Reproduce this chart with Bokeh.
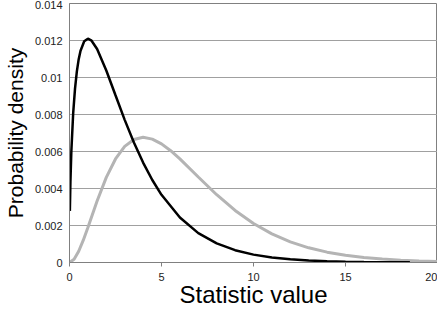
from bokeh.plotting import figure
from bokeh.models import Range1d, FixedTicker
from bokeh.embed import file_html
from bokeh.resources import INLINE

# Black curve (narrow distribution)
black_x = [0.02, 0.05, 0.1, 0.2, 0.3, 0.4, 0.5, 0.6, 0.8, 1.0, 1.2, 1.5, 2.0, 2.5, 3.0,
           3.5, 4.0, 4.5, 5.0, 6.0, 7.0, 8.0, 9.0, 10, 11, 12, 13, 14, 15, 16, 17, 18.5]
black_y = [0.00279, 0.00435, 0.00600, 0.00807, 0.00940, 0.01033, 0.01099, 0.01145,
           0.01196, 0.01210, 0.01199, 0.01154, 0.01038, 0.00904, 0.00771, 0.00649,
           0.00540, 0.00446, 0.00366, 0.00243, 0.00159, 0.00103, 0.000665, 0.000425,
           0.000270, 0.000171, 0.000108, 0.000068, 0.000043, 0.000027, 0.000017, 0.0000086]

# Gray curve (wider distribution)
gray_x = [0, 0.25, 0.5, 0.75, 1.0, 1.5, 2.0, 2.5, 3.0, 3.5, 4.0, 4.5, 5.0, 5.5, 6.0,
          7.0, 8.0, 9.0, 10, 11, 12, 13, 14, 15, 16, 17, 18, 19, 20]
gray_y = [0.0, 0.000172, 0.000608, 0.001208, 0.001895, 0.003321, 0.004599, 0.005596,
          0.006276, 0.006652, 0.006767, 0.006670, 0.006413, 0.006043, 0.005601,
          0.004624, 0.003663, 0.002812, 0.002106, 0.001545, 0.001115, 0.000794,
          0.000559, 0.000389, 0.000268, 0.000184, 0.000125, 0.000084, 0.000057]

x_ticks = [0, 5, 10, 15, 20]
y_ticks = [0, 0.002, 0.004, 0.006, 0.008, 0.010, 0.012, 0.014]
y_labels = {0: "0", 0.002: "0.002", 0.004: "0.004", 0.006: "0.006", 0.008: "0.008",
            0.010: "0.01", 0.012: "0.012", 0.014: "0.014"}
x_title = "Statistic value"
y_title = "Probability density"

FONT = "Liberation Sans"

p = figure(width=437, height=310, output_backend="svg", toolbar_location=None,
           x_range=Range1d(0, 20), y_range=Range1d(0, 0.014),
           min_border_left=66, min_border_right=0, min_border_top=3, min_border_bottom=0)

p.background_fill_color = "white"
p.border_fill_color = "white"
p.outline_line_color = "#808080"
p.outline_line_width = 1

p.line(gray_x, gray_y, line_color="#b4b4b4", line_width=3)
p.line(black_x, black_y, line_color="black", line_width=2.5)

p.xgrid.grid_line_color = None
p.ygrid.grid_line_color = "#a0a0a0"
p.ygrid.grid_line_width = 1
p.ygrid.ticker = FixedTicker(ticks=y_ticks)

p.xaxis.ticker = FixedTicker(ticks=x_ticks)
p.yaxis.ticker = FixedTicker(ticks=y_ticks)
p.yaxis.major_label_overrides = y_labels

for ax in (p.xaxis[0], p.yaxis[0]):
    ax.axis_line_color = "#808080"
    ax.axis_line_width = 1
    ax.major_tick_line_color = "#808080"
    ax.minor_tick_line_color = None
    ax.major_label_text_font = FONT
    ax.major_label_text_font_size = "11px"
    ax.major_label_text_color = "#222222"
    ax.axis_label_text_font = FONT
    ax.axis_label_text_font_style = "normal"
    ax.axis_label_text_color = "black"

p.xaxis.axis_label = x_title
p.xaxis.axis_label_text_font_size = "24px"
p.xaxis.major_tick_out = 4
p.xaxis.major_tick_in = 0
p.xaxis.major_label_standoff = 6
p.xaxis.axis_label_standoff = -3

p.yaxis.axis_label = y_title
p.yaxis.axis_label_text_font_size = "21px"
p.yaxis.major_tick_out = 0
p.yaxis.major_tick_in = 0
p.yaxis.major_label_standoff = 7
p.yaxis.axis_label_standoff = 5

open("out.html", "w").write(file_html(p, INLINE))
